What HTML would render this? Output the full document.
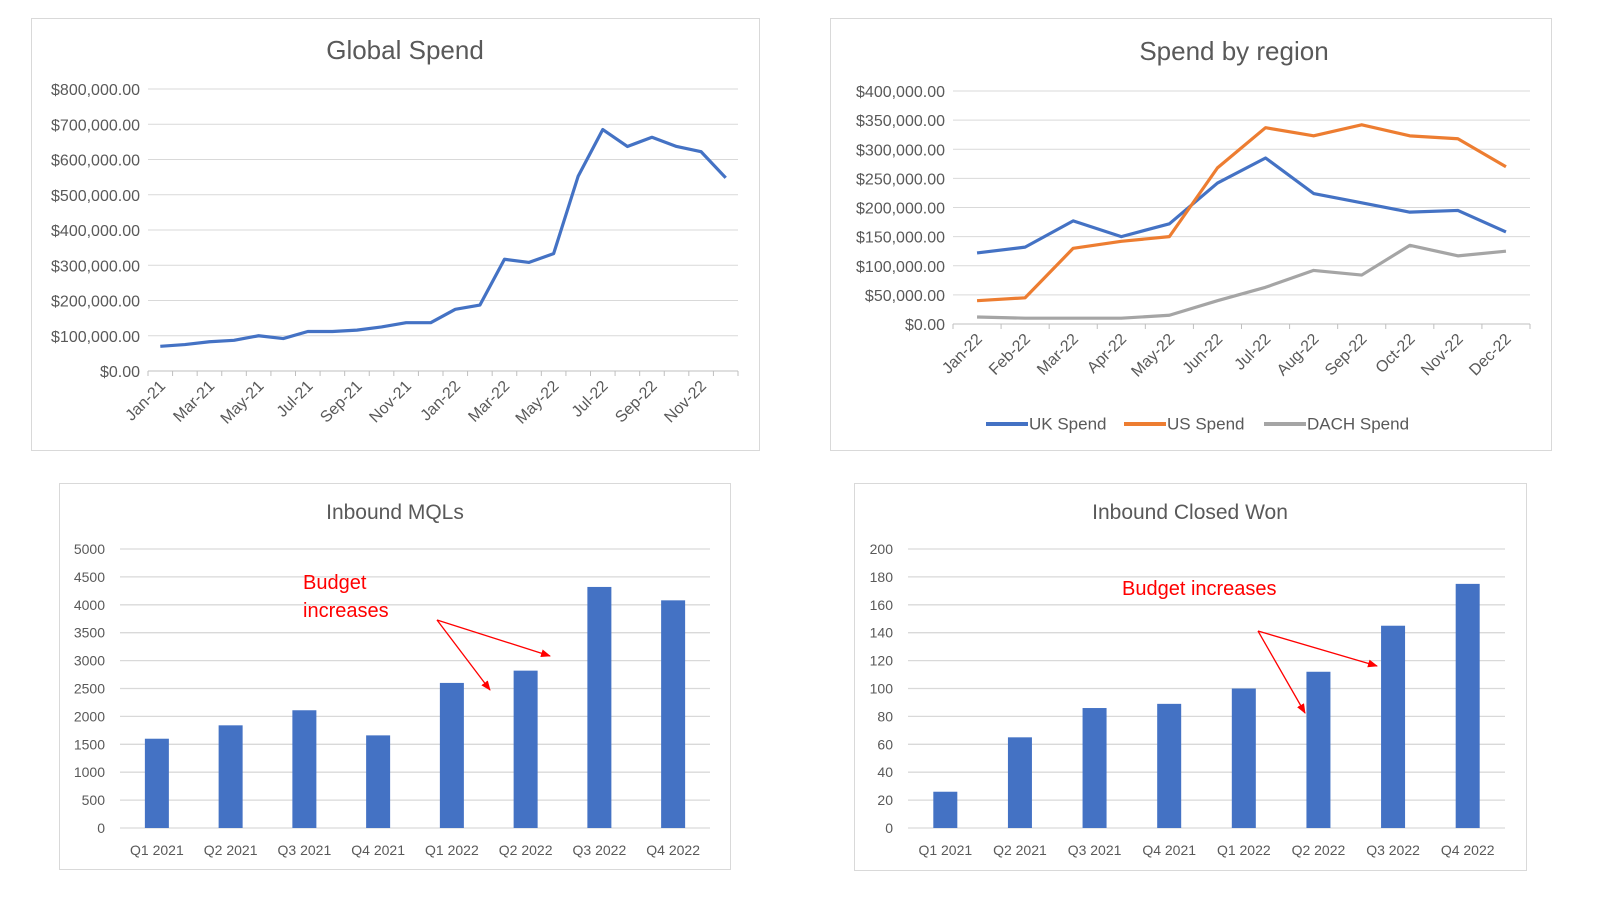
<!DOCTYPE html>
<html><head><meta charset="utf-8"><style>
html,body{margin:0;padding:0;background:#fff;width:1600px;height:908px;overflow:hidden}
svg{display:block}
text{font-family:"Liberation Sans",sans-serif}
</style></head><body>
<svg id="s" width="1600" height="908" xmlns="http://www.w3.org/2000/svg">
<defs><marker id="ah" markerWidth="10" markerHeight="8" refX="9" refY="4" orient="auto" markerUnits="userSpaceOnUse"><path d="M0,0 L10,4 L0,8 Z" fill="#ff0000"/></marker></defs>
<rect x="31.5" y="18.5" width="728" height="432" fill="#fff" stroke="#d9d9d9"/>
<rect x="830.5" y="18.5" width="721" height="432" fill="#fff" stroke="#d9d9d9"/>
<rect x="59.5" y="483.5" width="671" height="386" fill="#fff" stroke="#d9d9d9"/>
<rect x="854.5" y="483.5" width="672" height="387" fill="#fff" stroke="#d9d9d9"/>
<text x="405" y="59" font-size="26" fill="#595959" text-anchor="middle">Global Spend</text>
<text x="1234" y="60" font-size="26" fill="#595959" text-anchor="middle">Spend by region</text>
<text x="395" y="519" font-size="21" fill="#595959" text-anchor="middle">Inbound MQLs</text>
<text x="1190" y="519" font-size="21" fill="#595959" text-anchor="middle">Inbound Closed Won</text>
<g id="g"></g>
<text x="303" y="589" font-size="20" fill="#ff0000">Budget</text>
<text x="303" y="617" font-size="20" fill="#ff0000">increases</text>
<line x1="437" y1="620" x2="490" y2="690" stroke="#ff0000" stroke-width="1.3" marker-end="url(#ah)"/>
<line x1="437" y1="620" x2="550" y2="656" stroke="#ff0000" stroke-width="1.3" marker-end="url(#ah)"/>
<text x="1122" y="595" font-size="20" fill="#ff0000">Budget increases</text>
<line x1="1258" y1="631" x2="1305" y2="713" stroke="#ff0000" stroke-width="1.3" marker-end="url(#ah)"/>
<line x1="1258" y1="631" x2="1377" y2="666" stroke="#ff0000" stroke-width="1.3" marker-end="url(#ah)"/>
</svg>
<script>
const globalMonths=["Jan-21","Feb-21","Mar-21","Apr-21","May-21","Jun-21","Jul-21","Aug-21","Sep-21","Oct-21","Nov-21","Dec-21","Jan-22","Feb-22","Mar-22","Apr-22","May-22","Jun-22","Jul-22","Aug-22","Sep-22","Oct-22","Nov-22","Dec-22"];
const globalSpend=[70000,75000,83000,87000,100000,92000,112000,112000,116000,125000,137000,137000,175000,187000,317000,308000,333000,553000,685000,637000,663000,637000,622000,548000];
const globalTicks=[0,100000,200000,300000,400000,500000,600000,700000,800000];
const regionMonths=["Jan-22","Feb-22","Mar-22","Apr-22","May-22","Jun-22","Jul-22","Aug-22","Sep-22","Oct-22","Nov-22","Dec-22"];
const ukSpend=[122000,132000,177000,150000,172000,242000,285000,224000,208000,192000,195000,158000];
const usSpend=[40000,45000,130000,142000,150000,268000,337000,323000,342000,323000,318000,270000];
const dachSpend=[12000,10000,10000,10000,15000,40000,63000,92000,84000,135000,117000,125000];
const regionTicks=[0,50000,100000,150000,200000,250000,300000,350000,400000];
const quarters=["Q1 2021","Q2 2021","Q3 2021","Q4 2021","Q1 2022","Q2 2022","Q3 2022","Q4 2022"];
const mqls=[1600,1840,2110,1660,2600,2820,4320,4080];
const mqlTicks=[0,500,1000,1500,2000,2500,3000,3500,4000,4500,5000];
const closedWon=[26,65,86,89,100,112,145,175];
const wonTicks=[0,20,40,60,80,100,120,140,160,180,200];

const g=document.getElementById('g');
const NS="http://www.w3.org/2000/svg";
function mk(tag,attrs,txt){const e=document.createElementNS(NS,tag);for(const k in attrs)e.setAttribute(k,attrs[k]);if(txt!==undefined)e.textContent=txt;g.appendChild(e);return e;}
const money=v=>'$'+v.toLocaleString('en-US',{minimumFractionDigits:2,maximumFractionDigits:2});

function lineChart(o){
  const y=v=>o.y0-(v/o.max)*(o.y0-o.y1);
  const n=o.cats.length, step=(o.x1-o.x0)/n;
  const x=i=>o.x0+step*(i+0.5);
  o.ticks.forEach(t=>{
    const gl=mk('line',{x1:o.x0,x2:o.x1,y1:y(t),y2:y(t),stroke:t===0?'#bfbfbf':'#d9d9d9','stroke-width':1});
    
    
    const tl=mk('text',{x:o.x0-8,y:y(t)+6,'font-size':16,fill:'#595959','text-anchor':'end'},money(t));
    
    
  });
  for(let i=0;i<=n;i++){const tk=mk('line',{x1:o.x0+step*i,x2:o.x0+step*i,y1:o.y0,y2:o.y0+5,stroke:'#bfbfbf'});
    
    }
  o.cats.forEach((c,i)=>{ if(i%o.every) return;
    const tx=x(i)+6, ty=o.y0+16;
    const tl=mk('text',{x:tx,y:ty,'font-size':16,fill:'#595959','text-anchor':'end',transform:`rotate(-45 ${tx} ${ty})`},c);
    
    
  });
  o.series.forEach(s=>{
    const p=mk('polyline',{points:s.vals.map((v,i)=>x(i)+','+y(v)).join(' '),fill:'none',stroke:s.color,'stroke-width':3.2,'stroke-linejoin':'round'});
    
    
  });
}
lineChart({id:'global',cats:globalMonths,x0:148,x1:738,y0:371,y1:89,max:800000,ticks:globalTicks,every:2,
  series:[{vals:globalSpend,color:'#4472c4',name:'global-spend-line'}]});
lineChart({id:'region',cats:regionMonths,x0:953,x1:1530,y0:324,y1:91,max:400000,ticks:regionTicks,every:1,
  series:[{vals:ukSpend,color:'#4472c4',name:'uk-spend-line'},{vals:usSpend,color:'#ed7d31',name:'us-spend-line'},{vals:dachSpend,color:'#a5a5a5',name:'dach-spend-line'}]});

[['UK Spend','#4472c4',986],['US Spend','#ed7d31',1124],['DACH Spend','#a5a5a5',1264]].forEach(l=>{
  const ln=mk('line',{x1:l[2],x2:l[2]+42,y1:424,y2:424,stroke:l[1],'stroke-width':4});
  
  
  const t=mk('text',{x:l[2]+43,y:425,'font-size':17,fill:'#595959'},l[0]);
  
  
  t.setAttribute('dominant-baseline','middle');
});

function barChart(o){
  const y=v=>o.y0-(v/o.max)*(o.y0-o.y1);
  const n=o.cats.length, step=(o.x1-o.x0)/n;
  o.ticks.forEach(t=>{
    const gl=mk('line',{x1:o.x0,x2:o.x1,y1:y(t),y2:y(t),stroke:'#d9d9d9','stroke-width':1.3});
    
    
    const tl=mk('text',{x:o.x0-15,y:y(t)+5,'font-size':14,fill:'#595959','text-anchor':'end'},t);
    
    
  });
  o.cats.forEach((c,i)=>{
    const cx=o.x0+step*(i+0.5);
    const b=mk('rect',{x:cx-12,y:y(o.vals[i]),width:24,height:o.y0-y(o.vals[i]),fill:'#4472c4'});
    
    
    const tl=mk('text',{x:cx,y:o.y0+27,'font-size':14,fill:'#595959','text-anchor':'middle'},c);
    
    
  });
}
barChart({id:'mql',cats:quarters,vals:mqls,ticks:mqlTicks,max:5000,x0:120,x1:710,y0:828,y1:549});
barChart({id:'won',cats:quarters,vals:closedWon,ticks:wonTicks,max:200,x0:908,x1:1505,y0:828,y1:549});
</script>
</body></html>
